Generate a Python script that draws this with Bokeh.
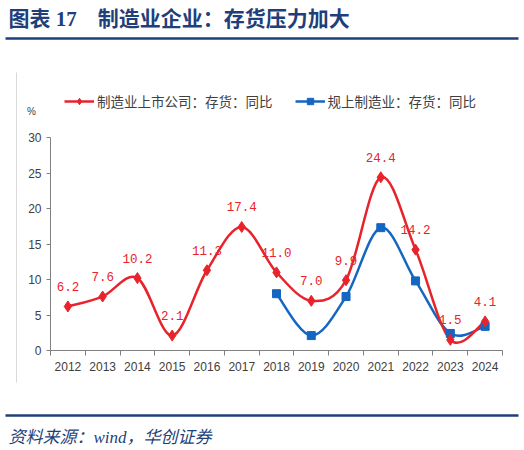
from bokeh.plotting import figure
from bokeh.models import (Range1d, FixedTicker, Label, Legend, LegendItem, Arrow,
                          ColumnDataSource)
from bokeh.core.properties import value
from bokeh.embed import file_html
from bokeh.resources import INLINE

years = ["2012", "2013", "2014", "2015", "2016", "2017", "2018",
         "2019", "2020", "2021", "2022", "2023", "2024"]
listed = [6.2, 7.6, 10.2, 2.1, 11.3, 17.4, 11.0, 7.0, 9.9, 24.4, 14.2, 1.5, 4.1]
above_scale_years = ["2018", "2019", "2020", "2021", "2022", "2023", "2024"]
above_scale = [8.0, 2.1, 7.6, 17.3, 9.8, 2.4, 3.4]
y_ticks = [0, 5, 10, 15, 20, 25, 30]

RED = "#E8232B"
BLUE = "#1566C0"
NAVY = "#1F3F7A"
AXIS = "#808080"
TXT = "#404040"

W, H = 520, 446
# plot area geometry (pixels) -> ranges; the frame fills the whole canvas
PX_L, PX_R, PX_0, PX_30 = 50, 502, 350, 137
cat_px = (PX_R - PX_L) / len(years)
unit_px = (PX_0 - PX_30) / 30.0
x_start = -0.5 - PX_L / cat_px
x_end = -0.5 + (W - PX_L) / cat_px
y_start = -(H - PX_0) / unit_px
y_end = PX_0 / unit_px

p = figure(width=W, height=H, output_backend="svg", toolbar_location=None,
           x_range=Range1d(x_start, x_end), y_range=Range1d(y_start, y_end),
           min_border=0)
p.outline_line_color = None
p.grid.visible = False
p.background_fill_color = "white"
p.border_fill_color = "white"

idx = {y: i for i, y in enumerate(years)}


def smooth(xs, ys):
    n = len(xs)
    d = dict(x0=[], y0=[], x1=[], y1=[], cx0=[], cy0=[], cx1=[], cy1=[])
    for i in range(n - 1):
        a = i - 1 if i > 0 else i
        b = i + 2 if i + 2 < n else i + 1
        d["x0"].append(xs[i]); d["y0"].append(ys[i])
        d["x1"].append(xs[i + 1]); d["y1"].append(ys[i + 1])
        d["cx0"].append(xs[i] + (xs[i + 1] - xs[a]) / 6)
        d["cy0"].append(ys[i] + (ys[i + 1] - ys[a]) / 6)
        d["cx1"].append(xs[i + 1] - (xs[b] - xs[i]) / 6)
        d["cy1"].append(ys[i + 1] - (ys[b] - ys[i]) / 6)
    return ColumnDataSource(d)


rx = [idx[y] for y in years]
bx = [idx[y] for y in above_scale_years]

p.bezier(x0="x0", y0="y0", x1="x1", y1="y1", cx0="cx0", cy0="cy0", cx1="cx1",
         cy1="cy1", source=smooth(bx, above_scale), line_color=BLUE, line_width=2.5)
p.bezier(x0="x0", y0="y0", x1="x1", y1="y1", cx0="cx0", cy0="cy0", cx1="cx1",
         cy1="cy1", source=smooth(rx, listed), line_color=RED, line_width=2.5)

bm = p.scatter(bx, above_scale, marker="square", size=8, color=BLUE)
rm = p.scatter(rx, listed, marker="diamond", size=11, color=RED)

lab_src = ColumnDataSource(dict(x=rx, y=listed, t=["%.1f" % v for v in listed]))
p.text(x="x", y="y", text="t", source=lab_src, text_color=RED,
       text_font=value("Liberation Mono"), text_font_size="12.5px",
       text_align="center", text_baseline="middle", y_offset=-20)

# legend (line swatches from NaN-only line renderers, so they draw nothing in the plot)
nan = float("nan")
rl = p.line(x=[nan, nan], y=[nan, nan], line_color=RED, line_width=2.5)
bl = p.line(x=[nan, nan], y=[nan, nan], line_color=BLUE, line_width=2.5)
legend = Legend(items=[LegendItem(label="制造业上市公司：存货：同比", renderers=[rl, rm]),
                       LegendItem(label="规上制造业：存货：同比", renderers=[bl, bm])],
                orientation="horizontal", location=(64, H - 111), padding=0, margin=0,
                spacing=22, glyph_width=30, glyph_height=16, label_standoff=3,
                border_line_color=None, background_fill_alpha=0,
                label_text_font="Noto Sans CJK SC", label_text_font_size="13.5px",
                label_text_color=TXT, label_height=16)
p.add_layout(legend, "center")

# axes, placed inside the canvas
p.xaxis.fixed_location = 0
p.yaxis.fixed_location = -0.5
p.xaxis.bounds = (-0.5, len(years) - 0.5)
p.yaxis.bounds = (0, 30)
p.xaxis.ticker = FixedTicker(ticks=list(range(len(years))),
                             minor_ticks=[i - 0.5 for i in range(len(years) + 1)])
p.xaxis.major_label_overrides = {i: y for i, y in enumerate(years)}
p.xaxis.major_tick_out = 0
p.xaxis.major_tick_in = 0
p.xaxis.minor_tick_out = 5
p.xaxis.minor_tick_in = 0
p.yaxis.ticker = FixedTicker(ticks=y_ticks)
p.yaxis.major_tick_out = 4
p.yaxis.major_tick_in = 0
for ax in (p.xaxis, p.yaxis):
    ax.axis_line_color = AXIS
    ax.major_tick_line_color = AXIS
    ax.minor_tick_line_color = AXIS
    ax.major_label_text_font = "Liberation Sans"
    ax.major_label_text_font_size = "12px"
    ax.major_label_text_color = TXT
p.yaxis.minor_tick_line_color = None
p.yaxis.major_label_standoff = 5
p.xaxis.major_label_standoff = 6

# decorations (screen units, canvas bottom-left origin)
p.add_layout(Label(x=8, y=H - 18, x_units="screen", y_units="screen",
                   text="图表 17　制造业企业：存货压力加大",
                   text_font="Liberation Serif, Noto Sans CJK SC",
                   text_font_size="21px", text_font_style="bold", text_color=NAVY,
                   text_baseline="middle", text_align="left"))
p.add_layout(Arrow(end=None, x_start=5, y_start=H - 38, x_end=518, y_end=H - 38,
                   start_units="screen", end_units="screen", line_color=NAVY,
                   line_width=2.5))
p.add_layout(Arrow(end=None, x_start=16, y_start=H - 72, x_end=16, y_end=H - 382,
                   start_units="screen", end_units="screen", line_color="#D9D9D9",
                   line_width=1))
p.add_layout(Label(x=31, y=H - 111, x_units="screen", y_units="screen", text="%",
                   text_font="Liberation Sans", text_font_size="10px",
                   text_color=TXT, text_baseline="middle", text_align="center"))
p.add_layout(Arrow(end=None, x_start=5, y_start=H - 415, x_end=518, y_end=H - 415,
                   start_units="screen", end_units="screen", line_color=NAVY,
                   line_width=2.5))
p.add_layout(Label(x=8, y=H - 437, x_units="screen", y_units="screen",
                   text="资料来源：wind，华创证券",
                   text_font="Liberation Serif, Noto Sans CJK SC",
                   text_font_size="17px", text_font_style="italic", text_color=NAVY,
                   text_baseline="middle", text_align="left"))

open("out.html", "w").write(file_html(p, INLINE))
